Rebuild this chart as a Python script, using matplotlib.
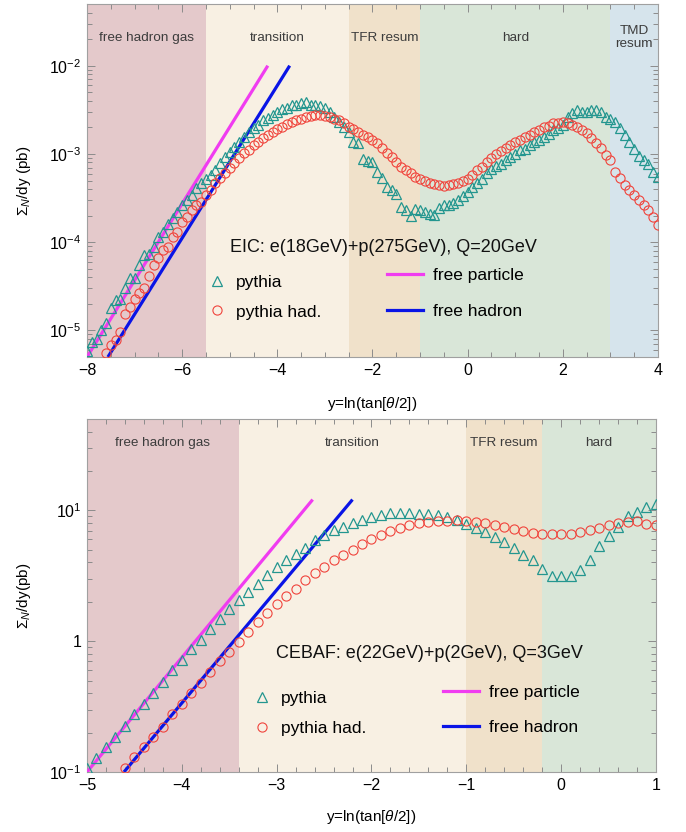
import numpy as np
import matplotlib
matplotlib.use("Agg")
import matplotlib.pyplot as plt
from matplotlib.lines import Line2D
from matplotlib.ticker import MultipleLocator, LogLocator, NullFormatter, FixedLocator, FixedFormatter

plt.rcParams['font.family'] = ['Liberation Sans', 'DejaVu Sans']
plt.rcParams['mathtext.fontset'] = 'custom'
plt.rcParams['mathtext.rm'] = 'Liberation Sans'
plt.rcParams['mathtext.it'] = 'Liberation Sans:italic'
plt.rcParams['mathtext.bf'] = 'Liberation Sans:bold'
plt.rcParams['axes.unicode_minus'] = True

# ---------------- data: top panel (EIC) ----------------
eic_x = np.round(np.arange(-8.0, 4.05, 0.1), 1)
eic_pythia = [
    5.9e-6, 7.4e-6, 8.1e-6, 1.0e-5, 1.23e-5, 1.78e-5, 2.19e-5, 2.29e-5, 3.02e-5, 3.89e-5,
    3.98e-5, 5.50e-5, 7.08e-5, 7.41e-5, 8.71e-5, 1.15e-4, 1.29e-4, 1.62e-4, 1.86e-4, 2.19e-4,
    2.63e-4, 3.02e-4, 3.39e-4, 4.07e-4, 4.68e-4, 5.25e-4, 5.75e-4, 6.61e-4, 7.94e-4, 9.33e-4,
    1.05e-3, 1.20e-3, 1.35e-3, 1.55e-3, 1.78e-3, 1.95e-3, 2.14e-3, 2.40e-3, 2.57e-3, 2.75e-3,
    3.02e-3, 3.24e-3, 3.31e-3, 3.55e-3, 3.63e-3, 3.80e-3, 3.89e-3, 3.63e-3, 3.63e-3, 3.47e-3,
    3.31e-3, 3.02e-3, 2.63e-3, 2.29e-3, 2.04e-3, 1.78e-3, 1.35e-3, 1.32e-3, 8.71e-4, 8.32e-4,
    8.13e-4, 6.31e-4, 5.37e-4, 4.27e-4, 3.89e-4, 3.55e-4, 2.51e-4, 2.29e-4, 2.00e-4, 2.40e-4,
    2.29e-4, 2.19e-4, 2.09e-4, 2.04e-4, 2.45e-4, 2.63e-4, 2.63e-4, 2.75e-4, 3.02e-4, 3.31e-4,
    3.72e-4, 4.17e-4, 4.68e-4, 5.25e-4, 6.03e-4, 6.76e-4, 7.24e-4, 7.76e-4, 8.51e-4, 9.33e-4,
    1.00e-3, 1.10e-3, 1.15e-3, 1.26e-3, 1.38e-3, 1.45e-3, 1.55e-3, 1.70e-3, 1.86e-3, 1.95e-3,
    2.14e-3, 2.63e-3, 2.88e-3, 3.16e-3, 3.02e-3, 3.02e-3, 3.16e-3, 3.16e-3, 3.02e-3, 2.63e-3,
    2.51e-3, 2.29e-3, 1.95e-3, 1.62e-3, 1.38e-3, 1.15e-3, 9.55e-4, 8.51e-4, 7.76e-4, 6.31e-4,
    5.50e-4,
]
eic_had_x = eic_x[4:]
eic_had = [
    5.50e-6, 6.76e-6, 7.76e-6, 9.55e-6, 1.55e-5, 1.82e-5, 2.29e-5, 2.63e-5, 3.02e-5, 4.17e-5,
    5.50e-5, 6.61e-5, 8.13e-5, 8.71e-5, 1.15e-4, 1.29e-4, 1.70e-4, 1.91e-4, 2.29e-4, 2.63e-4,
    2.88e-4, 3.39e-4, 3.89e-4, 4.68e-4, 5.37e-4, 6.03e-4, 6.92e-4, 7.94e-4, 8.91e-4, 1.02e-3,
    1.12e-3, 1.26e-3, 1.38e-3, 1.51e-3, 1.66e-3, 1.78e-3, 1.91e-3, 2.04e-3, 2.19e-3, 2.29e-3,
    2.40e-3, 2.51e-3, 2.63e-3, 2.69e-3, 2.75e-3, 2.75e-3, 2.69e-3, 2.63e-3, 2.51e-3, 2.40e-3,
    2.24e-3, 2.04e-3, 1.91e-3, 1.78e-3, 1.66e-3, 1.55e-3,
    1.45e-3, 1.32e-3, 1.17e-3, 1.02e-3, 9.33e-4, 8.13e-4, 7.08e-4, 6.61e-4, 6.03e-4, 5.50e-4,
    5.25e-4, 4.90e-4, 4.68e-4, 4.57e-4, 4.47e-4, 4.37e-4, 4.47e-4, 4.57e-4, 4.68e-4, 4.90e-4,
    5.25e-4, 5.75e-4, 6.61e-4, 7.08e-4, 8.13e-4, 8.91e-4, 1.00e-3, 1.07e-3, 1.17e-3, 1.26e-3,
    1.38e-3, 1.45e-3, 1.55e-3, 1.66e-3, 1.78e-3, 1.86e-3, 2.00e-3, 2.09e-3, 2.24e-3, 2.24e-3,
    2.29e-3, 2.24e-3, 2.14e-3, 2.04e-3, 1.86e-3, 1.74e-3, 1.51e-3, 1.32e-3, 1.17e-3, 9.77e-4,
    8.51e-4, 6.31e-4, 5.37e-4, 4.47e-4, 3.89e-4, 3.39e-4, 3.02e-4, 2.63e-4, 2.29e-4, 1.91e-4,
    1.55e-4,
]
eic_free_particle_x = [-8.0, -4.2]
eic_free_particle_y = [5.0e-6, 1.0e-2]
eic_free_hadron_x = [-7.56, -3.74]
eic_free_hadron_y = [5.0e-6, 1.0e-2]
eic_region_edges = [-8.0, -5.5, -2.5, -1.0, 3.0, 4.0]
eic_region_names = ["free hadron gas", "transition", "TFR resum", "hard", "TMD\nresum"]
eic_title = "EIC: e(18GeV)+p(275GeV), Q=20GeV"
eic_xticks = [-8, -6, -4, -2, 0, 2, 4]
eic_yticks = [1e-5, 1e-4, 1e-3, 1e-2]
eic_ytick_labels = [r"$10^{-5}$", r"$10^{-4}$", r"$10^{-3}$", r"$10^{-2}$"]

# ---------------- data: bottom panel (CEBAF) ----------------
ceb_x = np.round(np.arange(-5.0, 1.05, 0.1), 1)
ceb_pythia = [
    0.108, 0.129, 0.154, 0.186, 0.224, 0.277, 0.330, 0.404, 0.490, 0.601,
    0.724, 0.879, 1.03, 1.23, 1.47, 1.75, 2.08, 2.38, 2.75, 3.19,
    3.69, 4.21, 4.67, 5.19, 5.90, 6.44, 7.03, 7.46, 8.00, 8.49,
    8.89, 9.16, 9.55, 9.55, 9.55, 9.44, 9.31, 9.16, 8.89, 8.49,
    7.82, 7.38, 6.84, 6.25, 5.73, 5.19, 4.53, 4.15, 3.59, 3.13,
    3.13, 3.13, 3.48, 4.21, 5.31, 6.34, 7.46, 8.99, 9.70, 10.6,
    11.2,
]
ceb_had_x = ceb_x[4:]
ceb_had = [
    0.107, 0.131, 0.156, 0.186, 0.222, 0.277, 0.334, 0.404, 0.481, 0.583,
    0.708, 0.830, 0.989, 1.18, 1.40, 1.63, 1.94, 2.21, 2.52, 2.92,
    3.32, 3.69, 4.15, 4.53, 5.01, 5.50, 6.00,
    6.44, 6.95, 7.38, 7.67, 8.00, 8.15, 8.30, 8.30, 8.39, 8.30,
    8.15, 8.00, 7.67, 7.46, 7.24, 6.95, 6.70, 6.56, 6.56, 6.56,
    6.64, 6.84, 7.11, 7.38, 7.67, 8.00, 8.15, 8.30, 7.91, 7.67,
]
ceb_free_particle_x = [-5.0, -2.62]
ceb_free_particle_y = [0.1, 12.1]
ceb_free_hadron_x = [-4.61, -2.2]
ceb_free_hadron_y = [0.1, 12.1]
ceb_region_edges = [-5.0, -3.4, -1.0, -0.2, 1.0]
ceb_region_names = ["free hadron gas", "transition", "TFR resum", "hard"]
ceb_title = "CEBAF: e(22GeV)+p(2GeV), Q=3GeV"
ceb_xticks = [-5, -4, -3, -2, -1, 0, 1]
ceb_yticks = [0.1, 1, 10]
ceb_ytick_labels = [r"$10^{-1}$", "1", r"$10^{1}$"]

region_colors = ["#e4c9cb", "#f8f0e3", "#f0e1ca", "#d9e6d8", "#d6e4ec"]
teal = "#23968f"
red = "#f0443c"
magenta = "#f03cf0"
blue = "#0a14e6"

TRI_MS = 7.2
CIR_MS = 6.6

fig = plt.figure(figsize=(6.86, 8.32), dpi=100)
ax1 = fig.add_axes([0.1268, 0.5709, 0.8324, 0.4243])
ax2 = fig.add_axes([0.1268, 0.0721, 0.8294, 0.4243])


def draw(ax, x, py, hx, hy, fpx, fpy, fhx, fhy, edges, names, title, xticks, yticks,
         ylabels, ylim, xminor, label_y, ylabel, title_pos, leg1_pos, leg2_pos,
         xlabel_y, lab1_spacing, lab2_spacing):
    for i, name in enumerate(names):
        ax.axvspan(edges[i], edges[i + 1], color=region_colors[i], lw=0, zorder=0)
        ax.text((edges[i] + edges[i + 1]) / 2, label_y, name,
                transform=ax.get_xaxis_transform(), ha="center", va="center",
                fontsize=9.7, color="#3c3c3c", linespacing=1.15, zorder=1)
    ax.plot(fpx, fpy, color=magenta, lw=2.3, zorder=3, solid_capstyle="butt")
    ax.plot(fhx, fhy, color=blue, lw=2.3, zorder=3, solid_capstyle="butt")
    ax.plot(x, py, linestyle="none", marker="^", ms=TRI_MS, mfc="none", mec=teal,
            mew=0.9, zorder=4)
    ax.plot(hx, hy, linestyle="none", marker="o", ms=CIR_MS, mfc="none", mec=red,
            mew=0.8, zorder=4)
    ax.set_yscale("log")
    ax.set_xlim(edges[0], edges[-1])
    ax.set_ylim(*ylim)
    ax.xaxis.set_major_locator(FixedLocator(xticks))
    ax.xaxis.set_minor_locator(MultipleLocator(xminor))
    ax.yaxis.set_major_locator(FixedLocator(yticks))
    ax.yaxis.set_major_formatter(FixedFormatter(ylabels))
    ax.yaxis.set_minor_locator(LogLocator(base=10, subs=np.arange(2, 10), numticks=20))
    ax.yaxis.set_minor_formatter(NullFormatter())
    ax.tick_params(which="both", direction="in", top=True, right=True,
                   color="#8c8c8c", width=0.7, labelsize=11.5, labelcolor="black")
    ax.tick_params(which="major", length=6, pad=4)
    ax.tick_params(which="minor", length=3.5)
    for s in ax.spines.values():
        s.set_color("#a0a0a0")
        s.set_linewidth(0.8)
    ax.set_xlabel(r"y=ln(tan[$\it{\theta}$/2])", fontsize=11)
    ax.xaxis.set_label_coords(0.5, xlabel_y)
    ax.xaxis.label.set_va("top")
    ax.set_ylabel(ylabel, fontsize=11)
    ax.yaxis.set_label_coords(-0.095, 0.5)
    ax.text(title_pos[0], title_pos[1], title, transform=ax.transAxes,
            ha="left", va="center", fontsize=13, color="#111111", zorder=5)
    h1 = [Line2D([], [], linestyle="none", marker="^", ms=TRI_MS, mfc="none", mec=teal, mew=0.9),
          Line2D([], [], linestyle="none", marker="o", ms=CIR_MS, mfc="none", mec=red, mew=0.8)]
    l1 = ax.legend(h1, ["pythia", "pythia had."], loc="center left",
                   bbox_to_anchor=leg1_pos, frameon=False, fontsize=12.5,
                   handlelength=1.0, handletextpad=0.6, borderpad=0,
                   borderaxespad=0, labelspacing=lab1_spacing, numpoints=1)
    ax.add_artist(l1)
    h2 = [Line2D([], [], color=magenta, lw=2.3), Line2D([], [], color=blue, lw=2.3)]
    ax.legend(h2, ["free particle", "free hadron"], loc="center left",
              bbox_to_anchor=leg2_pos, frameon=False, fontsize=12.5,
              handlelength=2.07, handletextpad=0.57, borderpad=0,
              borderaxespad=0, labelspacing=lab2_spacing)


draw(ax1, eic_x, eic_pythia, eic_had_x, eic_had,
     eic_free_particle_x, eic_free_particle_y, eic_free_hadron_x, eic_free_hadron_y,
     eic_region_edges, eic_region_names, eic_title, eic_xticks, eic_yticks,
     eic_ytick_labels, (5e-6, 5e-2), 0.5, 0.905, r"$\Sigma_N$/dy (pb)",
     (0.2504, 0.3088), (0.2124, 0.170), (0.5254, 0.180), -0.1076, 0.85, 1.25)

draw(ax2, ceb_x, ceb_pythia, ceb_had_x, ceb_had,
     ceb_free_particle_x, ceb_free_particle_y, ceb_free_hadron_x, ceb_free_hadron_y,
     ceb_region_edges, ceb_region_names, ceb_title, ceb_xticks, ceb_yticks,
     ceb_ytick_labels, (0.1, 50), 0.2, 0.932, r"$\Sigma_N$/dy(pb)",
     (0.332, 0.337), (0.2923, 0.167), (0.6257, 0.1756), -0.102, 0.85, 1.15)

fig.savefig("out.png", dpi=100)
